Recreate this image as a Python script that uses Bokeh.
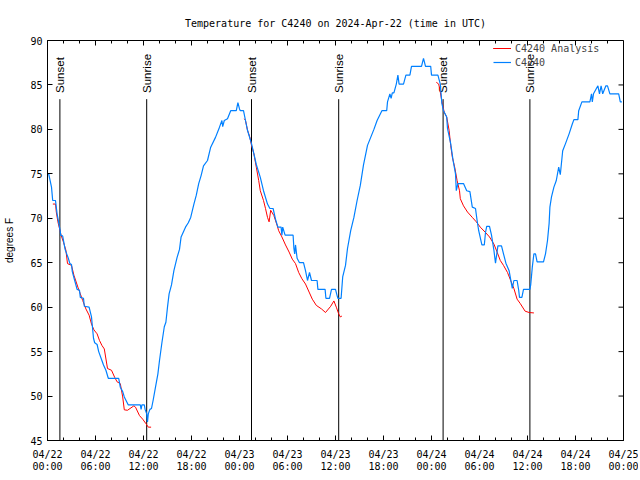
import math
from bokeh.plotting import figure
from bokeh.models import Range1d, FixedTicker, Legend, LegendItem
from bokeh.core.properties import value
from bokeh.embed import file_html
from bokeh.resources import INLINE

TITLE = "Temperature for C4240 on 2024-Apr-22 (time in UTC)"
Y_LABEL = "degrees F"

# hours since 2024-04-22 00:00 UTC
x_tick_hours = [0, 6, 12, 18, 24, 30, 36, 42, 48, 54, 60, 66, 72]
x_tick_labels = ["04/22\n00:00", "04/22\n06:00", "04/22\n12:00", "04/22\n18:00",
                 "04/23\n00:00", "04/23\n06:00", "04/23\n12:00", "04/23\n18:00",
                 "04/24\n00:00", "04/24\n06:00", "04/24\n12:00", "04/24\n18:00",
                 "04/25\n00:00"]
x_minor_hours = list(range(0, 73, 2))
y_ticks = [45, 50, 55, 60, 65, 70, 75, 80, 85, 90]

obs_hours = [0.0, 0.15, 0.5, 0.65, 1.0, 1.2, 1.4, 1.6, 1.65, 1.9, 2.2, 2.4, 2.6, 2.8, 3.0, 3.1,
             3.4, 3.7, 4.0, 4.1, 4.5, 4.6, 5.2, 5.5, 5.75, 5.9, 6.2, 6.4, 6.8, 7.0, 7.3, 7.6,
             8.9, 9.1, 9.4, 9.6, 10.1, 11.6, 11.7, 11.8, 12.1, 12.2, 12.4, 12.5, 12.6, 12.8,
             13.0, 13.2, 13.5, 13.8, 14.0, 14.3, 14.6, 14.8, 15.0, 15.2, 15.5, 15.8, 16.2,
             16.5, 16.7, 17.25, 17.6, 17.9, 18.3, 18.6, 18.9, 19.2, 19.5, 20.0, 20.4, 21.0,
             21.5, 21.8, 21.9, 22.1, 22.5, 22.9, 23.6, 23.8, 24.0, 24.1, 24.5, 24.75, 25.0,
             25.5, 25.8, 26.1, 26.6, 27.0, 27.5, 27.8, 28.2, 28.5, 28.8, 29.2, 29.3, 29.4,
             29.7, 30.7, 30.8, 30.9, 31.0, 31.2, 31.5, 32.0, 32.25, 32.5, 32.75, 33.0, 33.7,
             33.8, 34.7, 34.8, 35.25, 35.5, 36.0, 36.2, 36.3, 36.7, 36.9, 37.25, 37.5, 37.9,
             38.3, 38.7, 39.1, 39.5, 40.0, 40.4, 40.8, 41.2, 41.8, 42.4, 42.5, 42.8, 42.95,
             43.1, 43.3, 43.6, 43.8, 43.95, 44.5, 44.8, 45.3, 45.5, 46.75, 47.0, 47.25, 47.9,
             48.0, 48.8, 49.1, 49.2, 49.3, 49.5, 49.9, 50.0, 50.4, 50.7, 51.0, 51.1, 51.3,
             52.0, 52.4, 52.8, 53.1, 53.5, 53.7, 53.9, 54.3, 54.6, 54.75, 54.9, 55.25, 55.5,
             55.8, 56.0, 56.3, 56.75, 57.0, 57.3, 57.7, 57.9, 58.1, 58.3, 58.7, 58.9, 59.0,
             59.3, 59.5, 60.3, 60.4, 60.6, 60.8, 61.0, 61.2, 62.0, 62.25, 62.5, 62.7, 62.8,
             63.0, 63.3, 63.6, 63.9, 64.1, 64.4, 64.75, 65.2, 65.6, 65.8, 66.3, 66.4, 66.8,
             67.8, 68.0, 68.1, 68.25, 68.8, 69.0, 69.2, 69.4, 69.8, 70.0, 70.3, 71.4, 71.6,
             71.8]
obs_temps = [75.0, 75.0, 73.5, 72.0, 72.0, 70.5, 69.5, 68.5, 68.1, 68.0, 66.5, 66.0, 65.5, 64.9,
             64.8, 64.0, 63.0, 62.0, 61.9, 61.1, 61.0, 60.1, 60.0, 58.9, 56.5, 56.0, 55.8, 55.0,
             54.0, 53.5, 52.9, 52.0, 52.0, 51.0, 50.5, 49.9, 49.0, 49.0, 48.5, 49.0, 49.0, 48.5,
             48.0, 47.1, 48.0, 48.5, 48.6, 49.5, 51.0, 52.5, 54.0, 56.0, 57.8, 58.3, 60.0, 61.5,
             62.5, 64.1, 65.6, 66.5, 67.9, 69.0, 69.5, 70.1, 71.6, 72.6, 73.9, 74.8, 75.9, 76.5,
             78.0, 79.1, 80.25, 81.0, 80.3, 81.0, 81.2, 82.1, 82.1, 83.0, 82.3, 82.1, 82.1, 81.0,
             79.9, 78.4, 77.25, 76.05, 74.6, 73.1, 71.6, 71.1, 71.1, 69.9, 69.0, 69.0, 68.1,
             69.0, 68.1, 68.1, 66.6, 66.0, 67.0, 65.5, 65.0, 65.0, 64.1, 63.0, 63.9, 63.0, 63.0,
             62.0, 62.0, 61.0, 61.0, 62.0, 62.0, 61.3, 61.0, 61.0, 63.4, 64.7, 66.6, 68.6, 70.1,
             72.0, 73.7, 76.0, 78.2, 79.1, 80.0, 81.0, 82.1, 82.1, 83.1, 84.0, 83.5, 84.1, 84.1,
             85.1, 86.1, 85.1, 85.1, 86.1, 86.1, 87.1, 87.1, 88.0, 87.1, 87.1, 86.1, 86.1, 85.1,
             84.0, 82.9, 82.1, 81.4, 80.1, 78.4, 76.5, 75.0, 73.1, 73.9, 73.9, 73.1, 73.0, 71.25,
             71.1, 69.75, 68.6, 67.0, 67.0, 68.4, 69.1, 69.1, 68.1, 66.4, 64.95, 66.9, 66.9,
             66.0, 64.95, 64.1, 63.1, 62.1, 63.0, 63.0, 61.9, 61.1, 61.1, 62.0, 62.0, 62.5,
             64.5, 66.0, 66.0, 65.1, 65.1, 66.0, 67.5, 69.4, 71.25, 72.4, 73.5, 74.25, 75.75,
             74.9, 77.6, 78.4, 79.5, 80.6, 81.1, 81.1, 82.1, 83.1, 83.1, 84.0, 83.1, 84.0, 84.9,
             84.0, 84.9, 84.0, 84.9, 84.9, 84.0, 84.0, 83.1, 83.1]

ana1_hours = [0.67, 1.0, 1.1, 1.3, 1.7, 2.0, 2.3, 2.5, 3.0, 3.3, 3.8, 4.1, 4.4, 4.8, 5.2, 5.5,
              5.8, 6.2, 6.5, 6.8, 7.1, 7.5, 8.0, 8.4, 8.7, 9.1, 9.4, 9.6, 10.0, 10.8, 11.0,
              11.5, 11.9, 12.3, 12.6, 12.95]
ana1_temps = [71.6, 71.6, 70.7, 69.6, 68.1, 67.3, 66.4, 64.9, 64.7, 63.6, 62.25, 61.5, 60.75,
              59.8, 59.1, 58.1, 57.45, 57.0, 56.25, 55.7, 55.3, 53.1, 52.9, 52.1, 51.6, 51.4,
              49.9, 48.45, 48.4, 48.9, 48.75, 47.8, 47.4, 46.9, 46.5, 46.5]
ana2_hours = [24.6, 24.75, 25.0, 25.3, 25.5, 25.8, 26.1, 26.4, 26.6, 27.0, 27.25, 27.5, 27.7,
              27.9, 28.3, 28.7, 28.9, 29.3, 29.75, 30.2, 30.6, 31.0, 31.4, 31.8, 32.25, 32.7,
              33.1, 33.6, 34.25, 34.75, 35.4, 35.8, 36.1, 36.4, 36.6, 36.8]
ana2_temps = [81.2, 81.0, 79.9, 79.1, 78.2, 77.25, 75.75, 74.25, 73.1, 72.0, 71.1, 70.1, 69.6,
              70.9, 70.3, 69.2, 68.6, 67.9, 67.0, 66.2, 65.4, 64.9, 63.9, 63.2, 62.6, 61.7,
              60.9, 60.2, 59.8, 59.4, 60.1, 60.7, 60.0, 59.25, 58.9, 59.0]
ana3_hours = [48.6, 48.9, 49.1, 49.3, 49.6, 49.9, 50.2, 50.4, 50.6, 50.9, 51.2, 51.5, 51.6,
              52.0, 52.5, 53.1, 53.6, 54.1, 54.75, 55.25, 55.8, 56.2, 56.6, 57.0, 57.5, 57.9,
              58.3, 58.7, 59.1, 59.7, 60.2, 60.8]
ana3_temps = [85.3, 85.1, 84.2, 83.1, 81.9, 81.4, 79.9, 78.2, 76.9, 75.75, 74.25, 73.1, 72.2,
              71.4, 70.7, 70.1, 69.6, 69.0, 68.4, 67.9, 67.1, 66.2, 65.25, 64.7, 63.9, 63.0,
              62.1, 60.9, 60.4, 59.55, 59.4, 59.35]

sun_labels = ["Sunset", "Sunrise", "Sunset", "Sunrise", "Sunset", "Sunrise"]
sun_hours = [1.55, 12.4, 25.5, 36.4, 49.45, 60.3]

X_MIN, X_MAX = 0, 72
Y_MIN, Y_MAX = 45, 90
SUN_LINE_TOP = 83.4
SUN_TEXT_Y = 84.1

FRAME_W, FRAME_H = 576, 400
TICK_PX_MAJOR, TICK_PX_MINOR = 5, 3

MONO = "DejaVu Sans Mono"
SANS = "Liberation Sans"
RED = "#ff0000"
BLUE = "#0080ff"

p = figure(frame_width=FRAME_W, frame_height=FRAME_H, output_backend="svg", toolbar_location=None,
           x_range=Range1d(X_MIN, X_MAX), y_range=Range1d(Y_MIN, Y_MAX),
           min_border_left=47, min_border_right=15, min_border_top=40, min_border_bottom=38)

p.title.text = TITLE
p.title.align = "center"
p.title.text_font = MONO
p.title.text_font_size = "10px"
p.title.text_font_style = "normal"
p.title.text_color = "black"
p.title.standoff = 24

p.xgrid.visible = False
p.ygrid.visible = False
p.outline_line_color = "black"
p.outline_line_width = 1
p.outline_line_alpha = 1

xa = p.xaxis[0]
xa.ticker = FixedTicker(ticks=x_tick_hours, minor_ticks=x_minor_hours)
xa.major_label_overrides = {h: lab for h, lab in zip(x_tick_hours, x_tick_labels)}
ya = p.yaxis[0]
ya.ticker = FixedTicker(ticks=y_ticks, minor_ticks=[])
ya.axis_label = Y_LABEL
ya.axis_label_text_font = SANS
ya.axis_label_text_font_size = "10px"
ya.axis_label_text_font_style = "normal"
ya.axis_label_text_color = "black"
ya.axis_label_standoff = 12

for ax in (xa, ya):
    ax.major_tick_in = TICK_PX_MAJOR
    ax.major_tick_out = 0
    ax.minor_tick_in = TICK_PX_MINOR
    ax.minor_tick_out = 0
    ax.axis_line_color = "black"
    ax.major_tick_line_color = "black"
    ax.minor_tick_line_color = "black"
    ax.major_label_text_font = MONO
    ax.major_label_text_font_size = "10px"
    ax.major_label_text_color = "black"
xa.major_label_standoff = 8
xa.major_label_text_line_height = 1.1
ya.major_label_standoff = 5

# mirrored ticks on the top and right edges of the frame
x_per_px = (X_MAX - X_MIN) / FRAME_W
y_per_px = (Y_MAX - Y_MIN) / FRAME_H
p.segment(x0=x_tick_hours, y0=[Y_MAX] * len(x_tick_hours), x1=x_tick_hours,
          y1=[Y_MAX - TICK_PX_MAJOR * y_per_px] * len(x_tick_hours), line_color="black", line_width=1)
p.segment(x0=x_minor_hours, y0=[Y_MAX] * len(x_minor_hours), x1=x_minor_hours,
          y1=[Y_MAX - TICK_PX_MINOR * y_per_px] * len(x_minor_hours), line_color="black", line_width=1)
p.segment(x0=[X_MAX] * len(y_ticks), y0=y_ticks, x1=[X_MAX - TICK_PX_MAJOR * x_per_px] * len(y_ticks),
          y1=y_ticks, line_color="black", line_width=1)

p.segment(x0=sun_hours, y0=[Y_MIN] * len(sun_hours), x1=sun_hours,
          y1=[SUN_LINE_TOP] * len(sun_hours), line_color="black", line_width=1)
p.text(x=sun_hours, y=[SUN_TEXT_Y] * len(sun_hours), text=sun_labels, angle=math.pi / 2,
       text_align="left", text_baseline="middle", text_font=value(SANS),
       text_font_size=value("11.5px"), text_color="black")

ra1 = p.line(ana1_hours, ana1_temps, line_color=RED, line_width=1)
ra2 = p.line(ana2_hours, ana2_temps, line_color=RED, line_width=1)
ra3 = p.line(ana3_hours, ana3_temps, line_color=RED, line_width=1)
rb = p.line(obs_hours, obs_temps, line_color=BLUE, line_width=1.2)

# legend box placed by its bottom-left corner, in pixels from the frame's bottom-left
LEGEND_LEFT_PX, LEGEND_BOTTOM_PX = 444, 369
legend = Legend(items=[LegendItem(label="C4240 Analysis", renderers=[ra1, ra2, ra3]),
                       LegendItem(label="C4240", renderers=[rb])],
                location=(LEGEND_LEFT_PX, LEGEND_BOTTOM_PX))
legend.label_text_font = MONO
legend.label_text_font_size = "10px"
legend.glyph_width = 18
legend.glyph_height = 14
legend.label_height = 14
legend.spacing = 0
legend.padding = 2
legend.margin = 0
legend.label_standoff = 4
legend.border_line_alpha = 0
legend.background_fill_alpha = 0
p.add_layout(legend)

open("out.html", "w").write(file_html(p, INLINE))
